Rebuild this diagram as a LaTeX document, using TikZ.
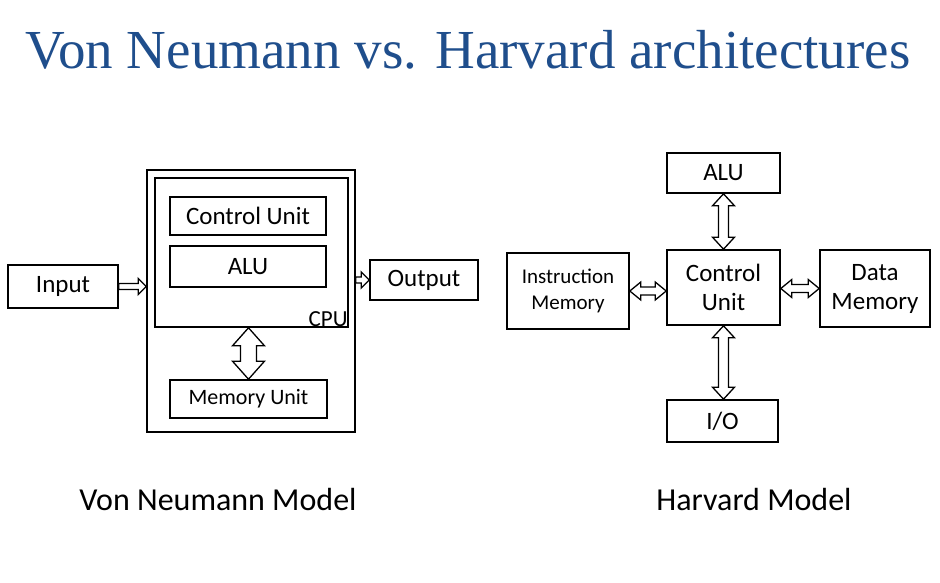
\documentclass[tikz,border=0pt]{standalone}
\usepackage{fontspec}
\setmainfont{Carlito}
\newfontfamily\ttlfont{Liberation Serif}
\usetikzlibrary{calc}
\definecolor{ttl}{HTML}{1F4E8C}
% args: from, to, shaft half, head half, head length (pt)
\newcommand\myharrow[5]{\draw[line width=1.3pt,fill=white,line join=miter] let \p1=(#1), \p2=(#2) in
 (\x1,\y1) -- (\x1+#5pt,\y1+#4pt) -- (\x1+#5pt,\y1+#3pt) -- (\x2-#5pt,\y1+#3pt) -- (\x2-#5pt,\y1+#4pt) -- (\x2,\y1) -- (\x2-#5pt,\y1-#4pt) -- (\x2-#5pt,\y1-#3pt) -- (\x1+#5pt,\y1-#3pt) -- (\x1+#5pt,\y1-#4pt) -- cycle;}
\newcommand\myvarrow[5]{\draw[line width=1.3pt,fill=white,line join=miter] let \p1=(#1), \p2=(#2) in
 (\x1,\y1) -- (\x1-#4pt,\y1-#5pt) -- (\x1-#3pt,\y1-#5pt) -- (\x1-#3pt,\y2+#5pt) -- (\x1-#4pt,\y2+#5pt) -- (\x1,\y2) -- (\x1+#4pt,\y2+#5pt) -- (\x1+#3pt,\y2+#5pt) -- (\x1+#3pt,\y1-#5pt) -- (\x1+#4pt,\y1-#5pt) -- cycle;}
\newcommand\mysarrow[5]{\draw[line width=1.3pt,fill=white,line join=miter] let \p1=(#1), \p2=(#2) in
 (\x1,\y1+#3pt) -- (\x2-#5pt,\y1+#3pt) -- (\x2-#5pt,\y1+#4pt) -- (\x2,\y1) -- (\x2-#5pt,\y1-#4pt) -- (\x2-#5pt,\y1-#3pt) -- (\x1,\y1-#3pt) -- cycle;}
\begin{document}
\begin{tikzpicture}[x=1pt,y=-1pt,
  box/.style={draw,line width=1.6pt,inner sep=0pt,font=\fontsize{25}{29}\selectfont,align=center}]
\useasboundingbox[fill=white] (0,0) rectangle (940,583);
\node[font=\ttlfont\fontsize{55}{60}\selectfont,text=ttl] (title) at (468,50) {Von Neumann vs. Harvard architectures};
% Von Neumann
\node[box,minimum width=110,minimum height=43] (in) at (63,286.5) {Input};
\node[box,minimum width=208,minimum height=262] (outer) at (251,301) {};
\node[box,minimum width=193,minimum height=149] (cpu) at (251.5,252.5) {};
\node[anchor=south east,font=\fontsize{23}{27}\selectfont,inner sep=1pt] (cpul) at (cpu.south east) {CPU};
\node[box,minimum width=156,minimum height=38] (cu) at (248,216) {Control Unit};
\node[box,minimum width=156,minimum height=41] (alu) at (248,266.5) {ALU};
\node[box,minimum width=157,minimum height=38,font=\fontsize{22}{25}\selectfont] (mem) at (248.5,399) {Memory Unit};
\node[box,minimum width=108,minimum height=40] (out) at (424,280) {Output};
\coordinate (ia) at (in.east);
\coordinate (ib) at (outer.west|-in.east);
\mysarrow{ia}{ib}{3}{8}{8}
\coordinate (oa) at (outer.east|-out.west);
\mysarrow{oa}{out.west}{3}{8}{8}
\coordinate (ma) at (cpu.south-|mem.north);
\myvarrow{ma}{mem.north}{8}{16}{18}
% Harvard
\node[box,minimum width=113,minimum height=40] (halu) at (723.5,173) {ALU};
\node[box,minimum width=113,minimum height=75] (hcu) at (723.5,287.5) {Control\\Unit};
\node[box,minimum width=122,minimum height=76,font=\fontsize{21}{26}\selectfont] (im) at (568,291) {Instruction\\Memory};
\node[box,minimum width=110,minimum height=77] (dm) at (875,288.5) {Data\\Memory};
\node[box,minimum width=111,minimum height=42] (io) at (722.5,421) {I/O};
\myvarrow{halu.south}{hcu.north}{5}{11}{12}
\coordinate (ca) at (io.north-|hcu.south);
\myvarrow{hcu.south}{ca}{5}{11}{12}
\coordinate (da) at (hcu.west|-im.east);
\myharrow{im.east}{da}{4}{9}{11}
\coordinate (ea) at (hcu.east|-dm.west);
\myharrow{ea}{dm.west}{4}{9}{11}
\node[font=\fontsize{32}{36}\selectfont] (vnm) at (218,500) {Von Neumann Model};
\node[font=\fontsize{32}{36}\selectfont] (hm) at (754,500) {Harvard Model};
\end{tikzpicture}
\end{document}
